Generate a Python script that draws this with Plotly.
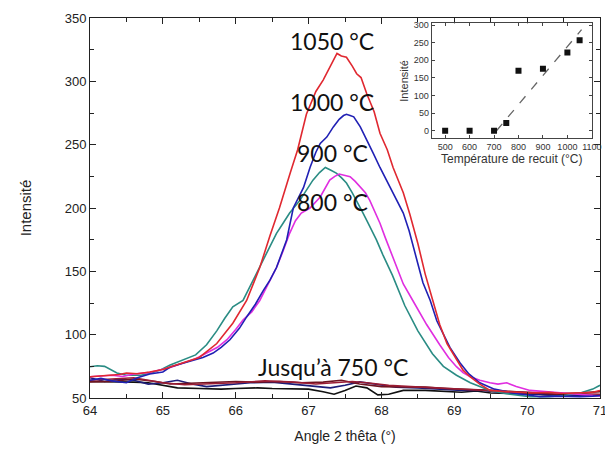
import plotly.graph_objects as go

# ---------------- main XRD curves (angle 2theta, intensity) ----------------
x_1050 = [64.0, 64.2, 64.4, 64.5, 64.65, 64.82, 65.0, 65.1, 65.3, 65.5, 65.74, 65.96, 66.15, 66.33, 66.47,
          66.6, 66.75, 66.85, 66.97, 67.1, 67.2, 67.3, 67.39, 67.45, 67.52, 67.6, 67.66, 67.72, 67.8, 67.9,
          67.98, 68.08, 68.16, 68.3, 68.39, 68.5, 68.6, 68.7, 68.8, 68.9, 69.03, 69.12, 69.22, 69.35, 69.49,
          69.7, 70.04, 70.3, 70.5, 70.73, 70.9, 71.0]
y_1050 = [66.8, 67.5, 68.5, 69.7, 69.2, 70.5, 72.5, 74.5, 78, 82, 93, 109, 127, 153, 178,
          200, 228, 246, 274, 292, 301, 312, 322, 320, 319, 312, 306, 303, 290, 276,
          259, 246, 232, 212, 195, 172, 148, 128, 108, 93, 80, 72, 66.6, 61, 56,
          55, 54, 54.5, 53.5, 54, 54.5, 56]

x_1000 = [64.0, 64.15, 64.3, 64.5, 64.65, 64.82, 65.0, 65.1, 65.25, 65.42, 65.55, 65.69, 65.8, 65.92, 66.05,
          66.15, 66.27, 66.38, 66.47, 66.56, 66.64, 66.7, 66.79, 66.86, 66.93, 67.02, 67.1, 67.16, 67.25,
          67.34, 67.42, 67.48, 67.52, 67.57, 67.62, 67.71, 67.8, 67.89, 67.98, 68.07, 68.14, 68.21, 68.3,
          68.38, 68.44, 68.5, 68.57, 68.67, 68.76, 68.85, 68.94, 69.08, 69.2, 69.35, 69.55, 69.81, 70.0,
          70.18, 70.4, 70.73, 70.9, 71.0]
y_1000 = [64.0, 65.5, 63.5, 62.0, 66.0, 69.0, 70.5, 74.5, 77.0, 80.0, 82.0, 85.5, 90.0, 96.0, 105.0,
          114.0, 124.0, 135.0, 143.0, 153.0, 165.0, 175.0, 200.0, 208.0, 216.0, 232.0, 244.0, 251.0, 256.0,
          264.0, 270.0, 273.0, 274.0, 273.0, 272.0, 264.0, 254.0, 243.0, 232.0, 222.0, 213.0, 206.0, 196.0,
          182.0, 170.0, 156.0, 141.0, 127.0, 111.0, 101.0, 90.0, 77.6, 69.0, 62.0, 57.0, 54.0, 52.5,
          51.0, 51.5, 51.0, 51.5, 52.0]

x_900 = [64.0, 64.1, 64.2, 64.3, 64.37, 64.5, 64.7, 64.85, 64.96, 65.1, 65.28, 65.45, 65.6, 65.74, 65.85,
         65.96, 66.1, 66.24, 66.33, 66.45, 66.56, 66.65, 66.74, 66.88, 66.97, 67.06, 67.15, 67.23, 67.3,
         67.38, 67.45, 67.52, 67.6, 67.66, 67.73, 67.8, 67.93, 68.02, 68.15, 68.32, 68.5, 68.7, 68.85,
         69.03, 69.22, 69.35, 69.49, 69.7, 70.04, 70.3, 70.5, 70.73, 70.9, 71.0]
y_900 = [74.7, 75.5, 75.0, 72.0, 69.7, 68.0, 68.0, 70.0, 72.0, 76.0, 80.0, 84.0, 92.0, 103.0, 113.0,
         122.0, 127.0, 143.0, 153.0, 168.0, 180.0, 188.0, 196.0, 206.0, 214.0, 222.0, 228.0, 232.0, 230.0,
         227.6, 224.0, 219.7, 212.0, 206.0, 198.0, 190.0, 175.0, 163.0, 147.0, 123.0, 103.0, 85.0, 75.0,
         68.0, 62.0, 59.0, 56.0, 53.5, 51.0, 51.0, 52.0, 54.0, 57.0, 60.0]

x_800 = [64.0, 64.15, 64.3, 64.45, 64.6, 64.8, 64.96, 65.1, 65.28, 65.45, 65.6, 65.75, 65.88, 66.0, 66.1,
         66.22, 66.33, 66.45, 66.56, 66.65, 66.74, 66.82, 66.9, 67.02, 67.16, 67.29, 67.36, 67.42, 67.5,
         67.57, 67.64, 67.71, 67.78, 67.84, 67.91, 67.98, 68.05, 68.12, 68.2, 68.3, 68.45, 68.62, 68.8,
         68.92, 69.03, 69.12, 69.22, 69.35, 69.49, 69.6, 69.72, 69.85, 70.04, 70.25, 70.49, 70.7, 70.85, 71.0]
y_800 = [66.8, 67.5, 68.0, 67.0, 69.0, 70.0, 72.0, 74.0, 77.6, 81.0, 85.5, 90.0, 96.0, 104.0, 111.6,
         118.0, 127.0, 140.0, 153.0, 166.0, 180.0, 190.0, 196.0, 200.0, 208.7, 222.0, 225.0, 226.8, 226.0,
         224.7, 221.0, 216.8, 212.0, 206.0, 197.0, 188.0, 177.0, 167.0, 155.0, 140.0, 125.0, 108.0, 92.0,
         82.0, 74.7, 70.0, 66.8, 64.0, 62.0, 61.0, 62.0, 59.0, 56.0, 55.0, 54.0, 53.0, 52.0, 51.6]

# ---------------- low curves (up to 750 °C) ----------------
x_low_black = [64.0, 64.3, 64.6, 64.8, 65.0, 65.2, 65.5, 65.8, 66.0, 66.3, 66.5, 66.8, 67.0, 67.2, 67.35,
               67.5, 67.65, 67.8, 67.95, 68.1, 68.3, 68.6, 68.9, 69.1, 69.3, 69.5, 69.8, 70.0, 70.3, 70.5,
               70.8, 71.0]
y_low_black = [63.0, 63.0, 62.5, 62.0, 60.0, 58.0, 57.5, 57.0, 57.5, 58.0, 57.5, 57.0, 57.0, 55.0, 53.0,
               56.0, 59.5, 58.0, 52.5, 53.0, 56.0, 56.0, 55.0, 54.5, 55.5, 54.0, 53.5, 53.5, 52.5, 53.0,
               52.0, 52.0]

x_low_navy = [64.0, 64.2, 64.4, 64.6, 64.8, 65.0, 65.2, 65.4, 65.6, 65.8, 66.0, 66.2, 66.5, 66.8, 67.0,
              67.3, 67.5, 67.7, 67.9, 68.2, 68.5, 68.8, 69.1, 69.4, 69.7, 70.0, 70.5, 71.0]
y_low_navy = [66.0, 63.0, 65.0, 64.0, 61.0, 62.0, 64.0, 61.0, 59.0, 60.0, 61.0, 62.0, 62.5, 61.0, 60.0,
              58.0, 60.0, 62.7, 61.0, 58.6, 58.0, 57.0, 56.0, 56.0, 54.0, 53.0, 52.0, 52.0]

x_low_maroon = [64.0, 64.3, 64.6, 64.9, 65.1, 65.4, 65.7, 66.0, 66.3, 66.6, 66.9, 67.2, 67.45, 67.7, 68.0,
                68.3, 68.6, 68.9, 69.2, 69.5, 69.8, 70.1, 70.4, 70.7, 71.0]
y_low_maroon = [62.7, 63.0, 65.0, 63.0, 61.0, 61.5, 62.5, 63.0, 62.5, 63.0, 62.0, 62.5, 64.0, 61.0, 59.0,
                58.6, 58.6, 57.5, 57.0, 56.0, 55.0, 54.0, 53.0, 54.0, 55.0]

x_low_darkred = [64.0, 64.3, 64.6, 64.8, 65.0, 65.3, 65.6, 66.0, 66.4, 66.8, 67.1, 67.4, 67.6, 67.8, 68.1,
                 68.4, 68.7, 69.0, 69.3, 69.6, 70.0, 70.4, 70.8, 71.0]
y_low_darkred = [64.0, 65.0, 66.0, 64.0, 62.0, 60.5, 61.0, 62.0, 63.5, 62.5, 61.0, 62.0, 63.0, 62.0, 60.0,
                 59.0, 58.0, 57.0, 56.5, 55.5, 54.5, 54.0, 53.0, 53.0]

# ---------------- inset data ----------------
anneal_temp = [500, 600, 700, 750, 800, 900, 1000, 1050]
anneal_intensity = [0, 0, 0, 22, 170, 176, 222, 257]
fit_temp = [710, 1058]
fit_intensity = [0, 287]

# ---------------- labels ----------------
curve_labels = ["1050 °C", "1000 °C", "900 °C", "800 °C", "Jusqu’à 750 °C"]
label_x = [67.315, 67.315, 67.335, 67.335, 67.335]
label_y = [332.0, 284.0, 243.5, 204.5, 74.5]

fig = go.Figure()

series = [
    (x_low_black, y_low_black, "#111111"),
    (x_low_navy, y_low_navy, "#1c1c78"),
    (x_low_maroon, y_low_maroon, "#6e1420"),
    (x_low_darkred, y_low_darkred, "#9a1c34"),
    (x_900, y_900, "#2a8c84"),
    (x_800, y_800, "#e02ee0"),
    (x_1000, y_1000, "#2020b4"),
    (x_1050, y_1050, "#e02830"),
]
for xs, ys, c in series:
    fig.add_trace(go.Scatter(x=xs, y=ys, mode="lines", line=dict(color=c, width=1.6),
                             showlegend=False, xaxis="x", yaxis="y", hoverinfo="skip"))

# inset traces
fig.add_trace(go.Scatter(x=fit_temp, y=fit_intensity, mode="lines",
                         line=dict(color="#666666", width=1.3, dash="dash"),
                         showlegend=False, xaxis="x2", yaxis="y2"))
fig.add_trace(go.Scatter(x=anneal_temp, y=anneal_intensity, mode="markers",
                         marker=dict(symbol="square", size=6, color="#111111"),
                         showlegend=False, xaxis="x2", yaxis="y2"))

for t, lx, ly in zip(curve_labels, label_x, label_y):
    fig.add_annotation(x=lx, y=ly, xref="x", yref="y", text=t, showarrow=False,
                       font=dict(family="Lato", size=23, color="#111111"),
                       xanchor="center", yanchor="middle")

axis_font = dict(family="Liberation Sans, Arial", size=13, color="#222222")
inset_font = dict(family="Liberation Sans, Arial", size=9, color="#333333")

# the page body adds an 8px offset, so the figure is 8px smaller and shifted accordingly
fig.update_layout(
    width=605, height=447,
    margin=dict(l=82, r=13, t=10, b=57),
    paper_bgcolor="white", plot_bgcolor="white",
    xaxis=dict(range=[64, 71], dtick=1, ticks="inside", ticklen=6, tickcolor="#222", automargin=False,
               minor=dict(dtick=0.5, ticks="inside", ticklen=4, tickcolor="#222"),
               showline=True, linecolor="#222", linewidth=1, mirror="ticks",
               showgrid=False, zeroline=False, tickfont=axis_font,
               title=dict(text="Angle 2 thêta (°)", font=dict(family="Liberation Sans, Arial", size=14, color="#222"),
                          standoff=14)),
    yaxis=dict(range=[50, 350], dtick=50, ticks="inside", ticklen=6, tickcolor="#222", automargin=False,
               minor=dict(dtick=25, ticks="inside", ticklen=4, tickcolor="#222"),
               showline=True, linecolor="#222", linewidth=1, mirror="ticks",
               showgrid=False, zeroline=False, tickfont=axis_font,
               title=dict(text="Intensité", font=dict(family="Liberation Sans, Arial", size=15, color="#222"),
                          standoff=29)),
    xaxis2=dict(domain=[0.670, 0.984], anchor="y2", range=[445, 1100], automargin=False,
                tickvals=[500, 600, 700, 800, 900, 1000, 1100], ticklabeloverflow="allow",
                ticks="inside", ticklen=3, tickcolor="#444",
                showline=True, linecolor="#444", linewidth=1, mirror="ticks",
                showgrid=False, zeroline=False, tickfont=inset_font,
                title=dict(text="Température de recuit (°C)",
                           font=dict(family="Liberation Sans, Arial", size=12, color="#333"), standoff=1)),
    yaxis2=dict(domain=[0.683, 0.986], anchor="x2", range=[-22, 305], dtick=50, automargin=False,
                ticks="inside", ticklen=3, tickcolor="#444",
                showline=True, linecolor="#444", linewidth=1, mirror="ticks",
                showgrid=False, zeroline=False, tickfont=inset_font,
                title=dict(text="Intensité", font=dict(family="Liberation Sans, Arial", size=11, color="#333"),
                           standoff=3)),
    shapes=[dict(type="rect", xref="x2 domain", yref="y2 domain",
                 x0=-0.216, x1=1.14, y0=-0.26, y1=1.12,
                 fillcolor="white", line=dict(width=0), layer="below")],
)

fig.write_html("out.html")
